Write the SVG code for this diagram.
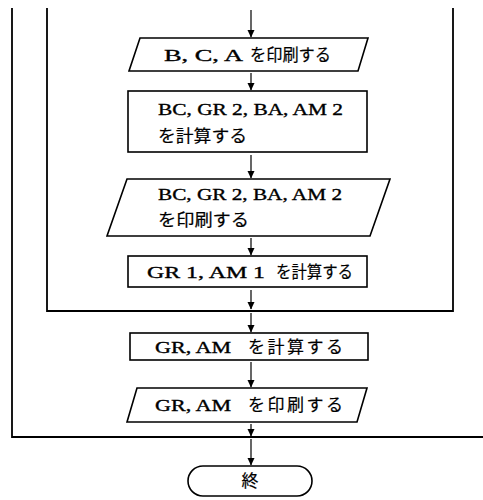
<svg xmlns="http://www.w3.org/2000/svg" width="483" height="500" viewBox="0 0 483 500">
<defs>
<marker id="arr" markerUnits="userSpaceOnUse" markerWidth="8" markerHeight="8" refX="7" refY="4" orient="auto" viewBox="0 0 8 8">
<path d="M0,0.5 L7.5,4 L0,7.5 Z" fill="#000"/>
</marker>
</defs>
<style>
.box{fill:#fff;stroke:#000;stroke-width:1.6}
.loop{fill:none;stroke:#000;stroke-width:1.8}
.c{fill:none;stroke:#000;stroke-width:1.2;marker-end:url(#arr)}
text{font-family:"Liberation Serif","Noto Sans CJK JP",serif;font-size:16px;fill:#000;stroke:#000;stroke-width:0.35}
.j{font-size:17px;stroke-width:0.2}
</style>
<rect width="483" height="500" fill="#fff"/>
<g id="loops">
<polyline class="loop" points="12,8 12,437 483,437"/>
<polyline class="loop" points="47,8 47,311 453,311 453,8"/>
</g>
<g id="connectors">
<line class="c" x1="251" y1="10" x2="251" y2="37"/>
<line class="c" x1="251" y1="73" x2="251" y2="90"/>
<line class="c" x1="251" y1="155" x2="251" y2="178"/>
<line class="c" x1="251" y1="238" x2="251" y2="255"/>
<line class="c" x1="251" y1="290" x2="251" y2="309"/>
<line class="c" x1="251" y1="313" x2="251" y2="332"/>
<line class="c" x1="251" y1="362" x2="251" y2="387"/>
<line class="c" x1="251" y1="424" x2="251" y2="436"/>
<line class="c" x1="251" y1="439" x2="251" y2="465"/>
</g>
<g id="n1">
<polygon class="box" points="140,38 368,38 358,71 129,71"/>
<text x="164" y="61"><tspan textLength="79" lengthAdjust="spacingAndGlyphs">B, C, A</tspan><tspan class="j" x="250" textLength="81" lengthAdjust="spacingAndGlyphs">を印刷する</tspan></text>
</g>
<g id="n2">
<rect class="box" x="128" y="91" width="239" height="61"/>
<text x="158" y="115" textLength="185" lengthAdjust="spacingAndGlyphs">BC, GR 2, BA, AM 2</text>
<text class="j" x="158" y="142" textLength="89" lengthAdjust="spacingAndGlyphs">を計算する</text>
</g>
<g id="n3">
<polygon class="box" points="127,179 390,179 370,236 107,236"/>
<text x="158" y="200" textLength="184" lengthAdjust="spacingAndGlyphs">BC, GR 2, BA, AM 2</text>
<text class="j" x="158" y="226" textLength="91" lengthAdjust="spacingAndGlyphs">を印刷する</text>
</g>
<g id="n4">
<rect class="box" x="128" y="256" width="239" height="31"/>
<text x="147" y="278"><tspan textLength="118" lengthAdjust="spacingAndGlyphs">GR 1, AM 1</tspan><tspan class="j" x="276" textLength="77" lengthAdjust="spacingAndGlyphs">を計算する</tspan></text>
</g>
<g id="n5">
<rect class="box" x="130" y="333" width="238" height="27"/>
<text x="155" y="353"><tspan textLength="76" lengthAdjust="spacingAndGlyphs">GR, AM</tspan><tspan class="j" x="248" textLength="95" lengthAdjust="spacing">を計算する</tspan></text>
</g>
<g id="n6">
<polygon class="box" points="137,388 367,388 357,422 127,422"/>
<text x="155" y="411"><tspan textLength="76" lengthAdjust="spacingAndGlyphs">GR, AM</tspan><tspan class="j" x="248" textLength="95" lengthAdjust="spacing">を印刷する</tspan></text>
</g>
<g id="n7">
<rect class="box" x="188" y="466" width="124" height="30" rx="15" ry="15"/>
<text class="j" x="250" y="487" text-anchor="middle">終</text>
</g>
</svg>
